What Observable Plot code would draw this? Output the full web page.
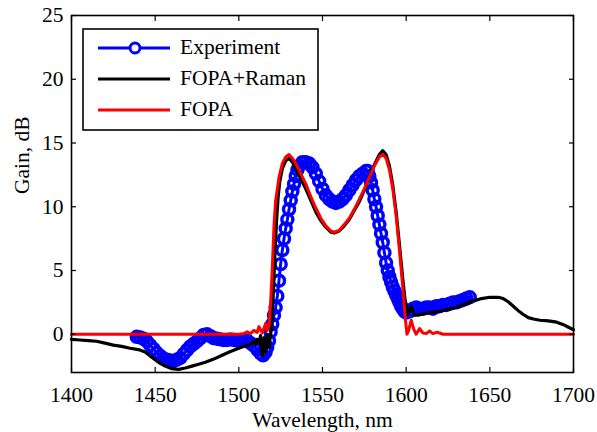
<!DOCTYPE html>
<html><head><meta charset="utf-8">
<script src="https://cdn.jsdelivr.net/npm/d3@7"></script>
<script src="https://cdn.jsdelivr.net/npm/@observablehq/plot@0.6"></script>
<style>body{margin:0;background:#fff}</style>
</head><body><div id="chart"></div>
<script>
// Experiment (blue circles)
const expWavelength = [1439,1441,1443,1445,1447,1449,1451,1453,1455,1457,1459,1461,1463,1465,1467,1469,1471,1473,1475,1477,1479,1481,1483,1485,1487,1489,1491,1493,1495,1497,1499,1501,1503,1505,1507,1509,1511,1513,1514.5,1516,1517,1518,1519,1520,1521,1522,1523,1524,1525,1526,1527,1528,1529,1530,1531,1532,1533,1534,1535,1536,1538,1540,1542,1544,1546,1548,1550,1552,1554,1556,1558,1560,1562,1564,1566,1568,1570,1572,1574,1576,1577,1578,1579,1580,1581,1582,1583,1584,1585,1586,1587,1588,1589,1590,1591,1592,1593,1594,1595,1596,1597,1598,1599,1600,1602,1604,1606,1608,1610,1612,1614,1616,1618,1620,1622,1624,1626,1628,1630,1632,1634,1636,1638];
const expGain = [-0.2,-0.25,-0.35,-0.55,-0.85,-1.15,-1.45,-1.7,-1.9,-2.0,-2.05,-2.1,-2.0,-1.85,-1.55,-1.25,-0.95,-0.75,-0.55,-0.3,-0.05,0.0,-0.15,-0.3,-0.35,-0.4,-0.45,-0.45,-0.4,-0.45,-0.5,-0.5,-0.45,-0.5,-0.7,-0.9,-1.2,-1.5,-1.65,-1.4,-1.0,-0.5,0.2,0.8,1.5,2.1,3.0,4.2,5.5,6.6,7.5,8.3,9.0,9.8,10.5,11.2,11.8,12.4,12.9,13.2,13.5,13.5,13.4,13.1,12.6,12.0,11.4,10.9,10.6,10.4,10.3,10.4,10.6,10.9,11.3,11.7,12.1,12.4,12.6,12.8,12.8,12.4,11.9,11.3,10.6,10.0,9.3,8.6,7.9,7.2,6.4,5.6,5.0,4.5,4.1,3.7,3.4,3.1,2.8,2.5,2.2,2.0,1.8,1.7,1.8,2.0,2.1,2.0,2.0,2.1,2.1,2.0,2.2,2.2,2.3,2.3,2.4,2.5,2.5,2.6,2.7,2.8,2.9];

// FOPA + Raman (black)
const ramanWavelength = [1400,1405,1410,1415,1420,1425,1430,1435,1440,1444,1448,1452,1456,1460,1464,1468,1472,1476,1480,1485,1490,1495,1500,1504,1507,1509,1510,1511,1512,1513,1514,1515,1516,1517,1518,1519.5,1520.5,1521.5,1522.5,1523.5,1524.5,1526,1528,1530,1532,1534,1537,1540,1543,1546,1549,1552,1555,1557,1560,1563,1566,1569,1572,1575,1578,1581,1584,1586,1588,1590,1592,1594,1596,1598,1599.5,1601,1602,1603,1604,1605,1607,1610,1615,1620,1625,1630,1635,1640,1645,1650,1655,1658,1661,1664,1667,1670,1673,1676,1680,1685,1690,1694,1697,1700];
const ramanGain = [-0.4,-0.45,-0.5,-0.55,-0.7,-0.85,-0.95,-1.1,-1.2,-1.4,-1.8,-2.2,-2.5,-2.7,-2.75,-2.65,-2.5,-2.35,-2.2,-1.95,-1.65,-1.35,-1.1,-0.9,-0.8,-0.55,-0.8,-0.4,-0.7,-0.1,-1.7,-0.3,-1.4,0.0,-1.0,0.5,3.0,6.0,8.8,10.8,12.0,13.0,13.6,13.8,13.5,13.0,12.2,11.4,10.5,9.6,8.9,8.4,8.0,7.95,8.1,8.5,9.0,9.7,10.4,11.3,12.3,13.3,14.1,14.4,14.1,13.2,11.7,9.6,7.0,4.3,2.5,1.5,1.9,2.2,1.8,1.5,1.5,1.6,1.7,1.8,1.95,2.1,2.35,2.6,2.8,2.9,2.9,2.8,2.55,2.2,1.85,1.55,1.3,1.2,1.1,1.05,0.95,0.75,0.55,0.35];

// FOPA (red)
const fopaWavelength = [1400,1500,1503,1505,1507,1509,1511,1512,1514,1516,1517,1518,1519,1520,1521,1522,1524,1526,1528,1530,1532,1534,1537,1540,1543,1546,1549,1552,1555,1557,1560,1563,1566,1569,1572,1575,1578,1581,1584,1586,1588,1590,1592,1594,1596,1598,1599.5,1600.5,1601.5,1603,1604.5,1606,1608,1610,1612,1614,1616,1618,1620,1622,1700];
const fopaGain = [0,0,0.05,0.2,0.05,0.3,0.15,0.6,0.1,0.85,0.3,0.6,2.5,5.2,8.5,10.5,12.3,13.4,13.9,14.1,13.8,13.4,12.6,11.8,10.8,9.9,9.1,8.5,8.1,8.0,8.15,8.6,9.1,9.8,10.6,11.4,12.3,13.2,13.9,14.1,13.8,12.9,11.4,9.3,6.6,3.6,1.2,0.0,0.3,1.1,0.4,0.0,0.45,0.1,0.05,0.25,0.05,0.15,0.1,0,0];

const xTicks = [1400,1450,1500,1550,1600,1650,1700];
const yTicks = [0,5,10,15,20,25];
const seriesNames = ["Experiment","FOPA+Raman","FOPA"];
const seriesColors = ["#0000ff","#000000","#ff0000"];
const xLabel = "Wavelength, nm";
const yLabel = "Gain, dB";

const expData = expWavelength.map((x,i)=>({x, y: expGain[i]}));
const ramanData = ramanWavelength.map((x,i)=>({x, y: ramanGain[i]}));
const fopaData = fopaWavelength.map((x,i)=>({x, y: fopaGain[i]}));

const font = "'Liberation Serif', 'Times New Roman', serif";
const fs = 21.5;
const tickOpts = {ticks: xTicks, tickSize: -5, label: null};

const plot = Plot.plot({
  width: 597, height: 432,
  marginLeft: 71, marginRight: 24, marginTop: 15, marginBottom: 60,
  style: {fontFamily: font, fontSize: fs + "px", color: "black", background: "white", overflow: "visible"},
  x: {domain: [1400, 1700]},
  y: {domain: [-3, 25]},
  marks: [
    Plot.line(expData, {x: "x", y: "y", stroke: seriesColors[0], strokeWidth: 3}),
    Plot.dot(expData, {x: "x", y: "y", r: 5.5, stroke: seriesColors[0], strokeWidth: 3.4, fill: "none"}),
    Plot.line(ramanData, {x: "x", y: "y", stroke: seriesColors[1], strokeWidth: 3.2}),
    Plot.line(fopaData, {x: "x", y: "y", stroke: seriesColors[2], strokeWidth: 3}),
    Plot.axisX({...tickOpts, anchor: "bottom", tickPadding: 19, tickFormat: d => String(d), strokeWidth: 1.2, fontSize: fs}),
    Plot.axisX({...tickOpts, anchor: "top", tickFormat: () => "", strokeWidth: 1.2}),
    Plot.axisY({ticks: yTicks, tickSize: -5, label: null, anchor: "left", tickPadding: 13, strokeWidth: 1.2, fontSize: fs}),
    Plot.axisY({ticks: yTicks, tickSize: -5, label: null, anchor: "right", tickFormat: () => "", strokeWidth: 1.2}),
    Plot.frame({stroke: "black", strokeWidth: 1.6}),
    Plot.text([xLabel], {frameAnchor: "bottom", dy: 54, fontSize: fs}),
    Plot.text([yLabel], {frameAnchor: "left", dx: -49, rotate: -90, fontSize: fs})
  ]
});
document.getElementById("chart").appendChild(plot);

// Legend
const svg = d3.select(plot);
const lg = svg.append("g").attr("class", "legend");
lg.append("rect").attr("x", 83).attr("y", 29).attr("width", 235).attr("height", 101)
  .attr("fill", "white").attr("stroke", "black").attr("stroke-width", 1.6);
const rowY = [48, 79, 110];
seriesNames.forEach((name, i) => {
  lg.append("line").attr("x1", 98).attr("x2", 170).attr("y1", rowY[i]).attr("y2", rowY[i])
    .attr("stroke", seriesColors[i]).attr("stroke-width", 3.2);
  if (i === 0) lg.append("circle").attr("cx", 135).attr("cy", rowY[i]).attr("r", 5)
    .attr("fill", "white").attr("stroke", seriesColors[i]).attr("stroke-width", 3);
  lg.append("text").attr("x", 180).attr("y", rowY[i]).attr("dy", "0.3em")
    .attr("text-anchor", "start")
    .attr("font-family", font).attr("font-size", fs).attr("fill", "black").text(name);
});
</script>
</body></html>
